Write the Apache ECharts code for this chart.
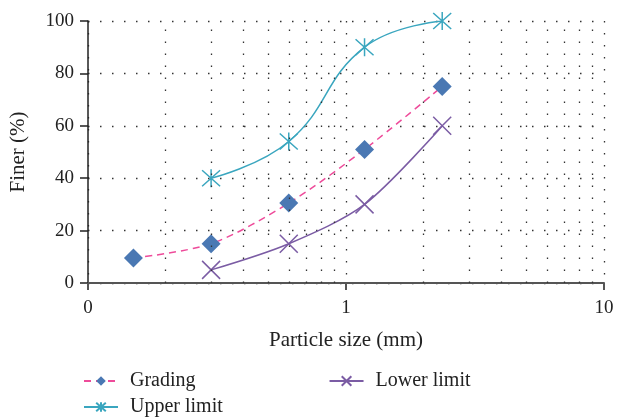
<!DOCTYPE html>
<html>
<head>
<meta charset="utf-8">
<script src="https://cdn.jsdelivr.net/npm/echarts@6/dist/echarts.min.js"></script>
<style>
  html, body { margin: 0; padding: 0; background: #fff; }
  #chart { width: 617px; height: 417px; }
</style>
</head>
<body>
<div id="chart"></div>
<script>
// sieve sizes (mm) and percent finer
const grading = [[0.15, 9.5], [0.3, 15], [0.6, 30.5], [1.18, 51], [2.36, 75]]
const upperLimit = [[0.3, 40], [0.6, 54], [1.18, 90], [2.36, 100]]
const lowerLimit = [[0.3, 5], [0.6, 15], [1.18, 30], [2.36, 60]]
// minor log gridlines
const minorTicks = [0.2, 0.3, 0.4, 0.5, 0.6, 0.7, 0.8, 0.9, 2, 3, 4, 5, 6, 7, 8, 9]

const font = '"Liberation Serif", "DejaVu Serif", serif'
const dotted = { type: [1.5, 10.5], color: '#333', width: 1.3 }
const legendText = { fontFamily: font, fontSize: 20, color: '#222', padding: [0, 0, 0, 7] }

const starPath = 'path://M0,1L18,17M18,1L0,17M9,0L9,18'
const crossPath = 'path://M0,0L18,16M18,0L0,16'

const myChart = echarts.init(document.getElementById('chart'))
myChart.setOption({
  animation: false,
  textStyle: { fontFamily: font },
  grid: { left: 87, right: 13, top: 21, bottom: 134 },
  legend: [{
    data: ['Grading', 'Lower limit'],
    left: 83, top: 371, padding: 0,
    itemWidth: 34, itemHeight: 12, itemGap: 133,
    textStyle: legendText
  }, {
    data: ['Upper limit'],
    left: 83, top: 397, padding: 0,
    itemWidth: 34, itemHeight: 12,
    textStyle: legendText
  }],
  xAxis: {
    type: 'log',
    logBase: 10,
    min: 0.1,
    max: 10,
    name: 'Particle size (mm)',
    nameLocation: 'middle',
    nameGap: 47,
    nameTextStyle: { fontFamily: font, fontSize: 21, color: '#222' },
    axisLine: { lineStyle: { color: '#555', width: 2 } },
    axisTick: { show: true, length: 7, lineStyle: { color: '#555', width: 2 } },
    axisLabel: {
      fontFamily: font, fontSize: 19, color: '#222', margin: 16,
      formatter: v => v < 1 ? '0' : String(Math.round(v))
    },
    splitLine: { show: true, lineStyle: dotted }
  },
  yAxis: {
    type: 'value',
    min: 0,
    max: 100,
    interval: 20,
    name: 'Finer (%)',
    nameLocation: 'middle',
    nameGap: 59,
    nameTextStyle: { fontFamily: font, fontSize: 21, color: '#222' },
    axisLine: { show: true, lineStyle: { color: '#222', width: 1.5 } },
    axisTick: { show: true, length: 8, lineStyle: { color: '#222', width: 1.5 } },
    axisLabel: { fontFamily: font, fontSize: 19, color: '#222', margin: 14 },
    splitLine: { show: true, lineStyle: dotted }
  },
  series: [{
    name: 'Upper limit',
    type: 'line',
    data: upperLimit,
    smooth: 0.45,
    symbol: starPath,
    symbolSize: 18,
    itemStyle: { color: 'rgba(0,0,0,0)', borderColor: '#3aa6bf', borderWidth: 1.5 },
    lineStyle: { color: '#3aa6bf', width: 1.5 },
    markLine: {
      silent: true,
      symbol: 'none',
      label: { show: false },
      lineStyle: dotted,
      data: minorTicks.map(v => ({ xAxis: v }))
    },
    z: 3
  }, {
    name: 'Grading',
    type: 'line',
    data: grading,
    smooth: 0.3,
    symbol: 'diamond',
    symbolSize: 19,
    itemStyle: { color: '#4a78b3' },
    lineStyle: { color: '#ee4b9a', width: 1.5, type: [7, 5] },
    z: 4
  }, {
    name: 'Lower limit',
    type: 'line',
    data: lowerLimit,
    smooth: 0.3,
    symbol: crossPath,
    symbolSize: 18,
    itemStyle: { color: 'rgba(0,0,0,0)', borderColor: '#7b5ca4', borderWidth: 1.5 },
    lineStyle: { color: '#7b5ca4', width: 1.5 },
    z: 3
  }]
})
</script>
</body>
</html>
